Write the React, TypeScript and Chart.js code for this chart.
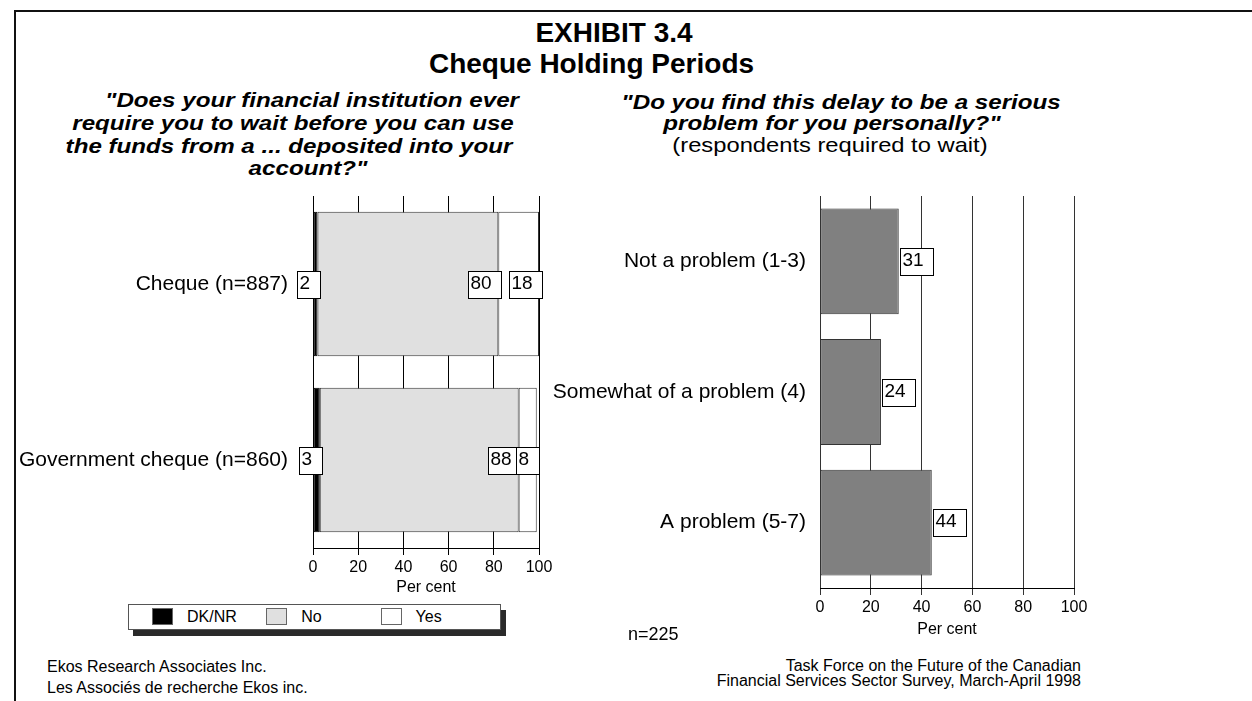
import React, { useEffect, useRef } from "react";
import { Chart, registerables } from "chart.js";

Chart.register(...registerables);

const FONT = "'Liberation Sans', Arial, Helvetica, sans-serif";

// ---------- data ----------
const leftCategories = ["Cheque (n=887)", "Government cheque (n=860)"];
const seriesNames = ["DK/NR", "No", "Yes"];
const dkNrValues = [2, 3];
const noValues = [80, 88];
const yesValues = [18, 8];
const seriesColors = ["#000000", "#e0e0e0", "#ffffff"];
const seriesBorders = ["#000000", "#333333", "#333333"];

const rightCategories = ["Not a problem (1-3)", "Somewhat of a problem (4)", "A problem (5-7)"];
const rightValues = [31, 24, 44];
const rightColor = "#808080";

const axisMin = 0;
const axisMax = 100;
const axisStep = 20;
const axisTitle = "Per cent";

const leftQuestion = [
  '"Does your financial institution ever',
  "require you to wait before you can use",
  "the funds from a ... deposited into your",
  'account?"',
];
const rightQuestion = ['"Do you find this delay to be a serious', 'problem for you personally?"'];
const rightSubtitle = "(respondents required to wait)";

// ---------- helpers ----------
function valueBoxPlugin(side: "before" | "after") {
  return {
    id: "valueBoxes",
    afterDatasetsDraw(chart: any) {
      const ctx = chart.ctx;
      ctx.save();
      ctx.font = `19px ${FONT}`;
      ctx.textBaseline = "top";
      ctx.textAlign = "left";
      chart.data.datasets.forEach((ds: any, di: number) => {
        const meta = chart.getDatasetMeta(di);
        meta.data.forEach((el: any, i: number) => {
          const text = String(ds.data[i]);
          const w = Math.round(ctx.measureText(text).width) + 12;
          const h = 27;
          const left = Math.round(side === "before" ? el.x + 2.5 - w : el.x + 1);
          const top = Math.round(el.y - h / 2);
          ctx.fillStyle = "#fff";
          ctx.fillRect(left, top, w, h);
          ctx.strokeStyle = "#000";
          ctx.lineWidth = 1;
          ctx.strokeRect(left + 0.5, top + 0.5, w, h);
          ctx.fillStyle = "#000";
          ctx.fillText(text, left + 2.5, top + 3);
        });
      });
      ctx.restore();
    },
  };
}

function xScale(gridColor: string, height: number, stacked: boolean) {
  return {
    type: "linear",
    stacked,
    min: axisMin,
    max: axisMax,
    ticks: { stepSize: axisStep, font: { size: 16, family: FONT }, color: "#000", padding: 3 },
    grid: { color: gridColor, lineWidth: 1, tickLength: 7, drawTicks: true },
    border: { display: true, color: "#000" },
    title: { display: true, text: axisTitle, font: { size: 16, family: FONT }, color: "#000", padding: 0 },
    afterFit: (s: any) => {
      s.height = height;
    },
  };
}

function yScale(width: number, pad: number, stacked: boolean) {
  return {
    type: "category",
    stacked,
    grid: { display: false, drawTicks: false },
    border: { display: false },
    ticks: { font: { size: 21, family: FONT }, color: "#000", padding: pad },
    afterFit: (s: any) => {
      s.width = width;
      s.paddingTop = 0;
      s.paddingBottom = 0;
    },
  };
}

function LeftChart() {
  const ref = useRef<HTMLCanvasElement | null>(null);
  useEffect(() => {
    if (!ref.current) return;
    const values = [dkNrValues, noValues, yesValues];
    const chart = new Chart(ref.current, {
      type: "bar",
      data: {
        labels: leftCategories,
        datasets: seriesNames.map((name, i) => ({
          label: name,
          data: values[i],
          backgroundColor: seriesColors[i],
          borderColor: seriesBorders[i],
          borderWidth: 1,
          borderSkipped: false,
          inflateAmount: 0,
          barPercentage: 0.82,
          categoryPercentage: 1,
        })),
      },
      options: {
        indexAxis: "y",
        animation: false,
        responsive: false,
        devicePixelRatio: 1,
        layout: { padding: { top: 16, right: 31, bottom: 3, left: 0 } },
        plugins: { legend: { display: false }, tooltip: { enabled: false } },
        scales: {
          x: xScale("#000", 49, true),
          y: yScale(313, 25, true),
        },
      } as any,
      plugins: [valueBoxPlugin("before")],
    });
    return () => chart.destroy();
  }, []);
  return (
    <canvas
      ref={ref}
      width={570}
      height={420}
      style={{ position: "absolute", left: 0, top: 180, width: 570, height: 420 }}
    />
  );
}

function RightChart() {
  const ref = useRef<HTMLCanvasElement | null>(null);
  useEffect(() => {
    if (!ref.current) return;
    const chart = new Chart(ref.current, {
      type: "bar",
      data: {
        labels: rightCategories,
        datasets: [
          {
            label: "Respondents",
            data: rightValues,
            backgroundColor: rightColor,
            borderColor: "#333333",
            borderWidth: 1,
            borderSkipped: false,
            inflateAmount: 0,
            barPercentage: 0.81,
            categoryPercentage: 1,
          },
        ],
      },
      options: {
        indexAxis: "y",
        animation: false,
        responsive: false,
        devicePixelRatio: 1,
        layout: { padding: { top: 16, right: 178, bottom: 1, left: 0 } },
        plugins: { legend: { display: false }, tooltip: { enabled: false } },
        scales: {
          x: xScale("#333", 51, false),
          y: yScale(290, 14, false),
        },
      } as any,
      plugins: [valueBoxPlugin("after")],
    });
    return () => chart.destroy();
  }, []);
  return (
    <canvas
      ref={ref}
      width={722}
      height={460}
      style={{ position: "absolute", left: 530, top: 180, width: 722, height: 460 }}
    />
  );
}

type TProps = {
  x: number;
  baseline: number;
  size: number;
  bold?: boolean;
  italic?: boolean;
  align?: "left" | "center" | "right";
  scale?: number;
  children: React.ReactNode;
};

function T({ x, baseline, size, bold, italic, align = "left", scale = 1, children }: TProps) {
  const top = baseline - 0.8465 * size;
  const W = 900;
  let left = x;
  let origin = "left";
  if (align === "center") {
    left = x - W / 2;
    origin = "center";
  } else if (align === "right") {
    left = x - W;
    origin = "right";
  }
  return (
    <div
      style={{
        position: "absolute",
        left,
        top,
        width: W,
        textAlign: align,
        fontFamily: FONT,
        fontSize: size,
        lineHeight: `${size}px`,
        fontWeight: bold ? "bold" : "normal",
        fontStyle: italic ? "italic" : "normal",
        whiteSpace: "nowrap",
        color: "#000",
        transform: scale !== 1 ? `scaleX(${scale})` : undefined,
        transformOrigin: origin,
      }}
    >
      {children}
    </div>
  );
}

function Legend() {
  return (
    <div
      style={{
        position: "absolute",
        left: 128,
        top: 604,
        width: 373,
        height: 26,
        border: "1.5px solid #555",
        boxSizing: "border-box",
        boxShadow: "5px 6px 0 #2a2a2a",
        background: "#fff",
      }}
    >
      {seriesNames.map((name, i) => (
        <React.Fragment key={name}>
          <div
            style={{
              position: "absolute",
              left: 23 + i * 114.3,
              top: 3,
              width: 21,
              height: 17,
              background: seriesColors[i],
              border: "1px solid #666",
              boxSizing: "border-box",
            }}
          />
          <div
            style={{
              position: "absolute",
              left: 58 + i * 114.3,
              top: 2,
              fontFamily: FONT,
              fontSize: 16,
              lineHeight: "19px",
              whiteSpace: "nowrap",
              color: "#000",
            }}
          >
            {name}
          </div>
        </React.Fragment>
      ))}
    </div>
  );
}

export default function App() {
  const leftCenters = [312, 292.7, 288.8, 308];
  const leftBaselines = [106.7, 129.5, 152.3, 175];
  const rightCenters = [841, 831.5];
  const rightBaselines = [108.5, 130];
  return (
    <div
      style={{
        position: "absolute",
        left: 0,
        top: 0,
        width: 1252,
        height: 701,
        overflow: "hidden",
        background: "#fff",
      }}
    >
      <div
        style={{
          position: "absolute",
          left: 14,
          top: 10,
          width: 1250,
          height: 720,
          borderTop: "2px solid #111",
          borderLeft: "2px solid #111",
          boxSizing: "border-box",
        }}
      />
      <T x={614} baseline={42.3} size={28} bold align="center">
        EXHIBIT 3.4
      </T>
      <T x={591.5} baseline={74} size={28} bold align="center">
        Cheque Holding Periods
      </T>
      {leftQuestion.map((line, i) => (
        <T key={i} x={leftCenters[i]} baseline={leftBaselines[i]} size={21} bold italic align="center" scale={1.15}>
          {line}
        </T>
      ))}
      {rightQuestion.map((line, i) => (
        <T key={i} x={rightCenters[i]} baseline={rightBaselines[i]} size={21} bold italic align="center" scale={1.15}>
          {line}
        </T>
      ))}
      <T x={830} baseline={151.5} size={21} align="center" scale={1.13}>
        {rightSubtitle}
      </T>

      <LeftChart />
      <RightChart />
      <Legend />

      <T x={628} baseline={640} size={18}>
        n=225
      </T>
      <T x={47} baseline={672.7} size={16}>
        Ekos Research Associates Inc.
      </T>
      <T x={47} baseline={693.7} size={16}>
        Les Associés de recherche Ekos inc.
      </T>
      <T x={1081} baseline={671.7} size={16} align="right">
        Task Force on the Future of the Canadian
      </T>
      <T x={1081} baseline={686.7} size={16} align="right">
        Financial Services Sector Survey, March-April 1998
      </T>
    </div>
  );
}
